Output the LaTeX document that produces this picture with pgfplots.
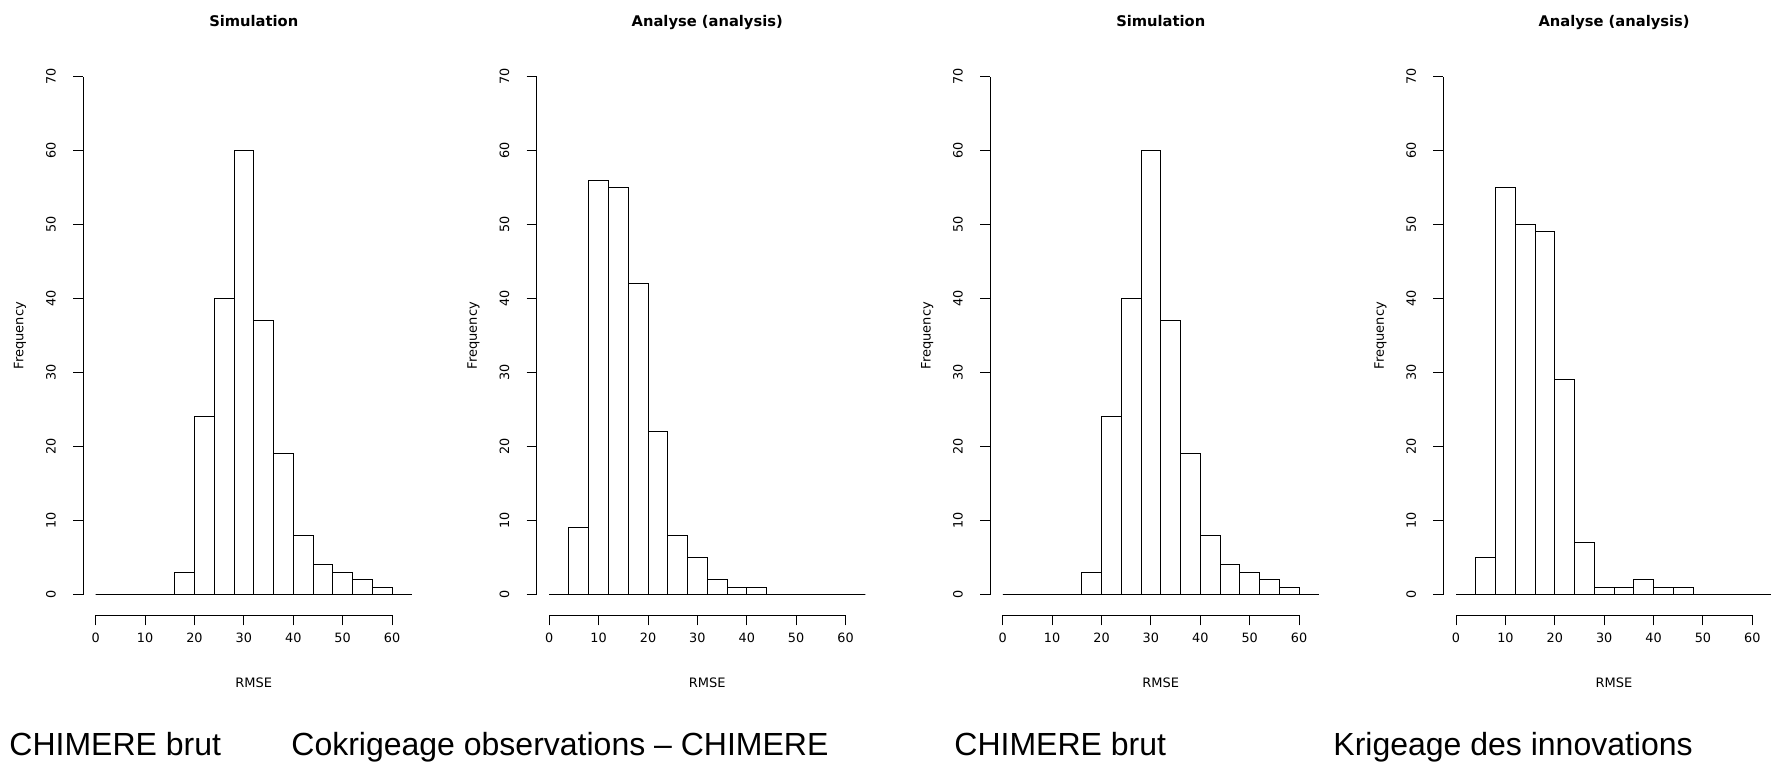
\documentclass[border=0pt]{standalone}
\usepackage{pgfplots}
\usepackage{pgfplotstable}
\usepackage{fontspec}
\pgfplotsset{compat=1.18}
\setmainfont{DejaVu Sans}
\newfontfamily\capfont{Liberation Sans}

\pgfplotstableread{
x y
0 0
4 0
8 0
12 0
16 3
20 24
24 40
28 60
32 37
36 19
40 8
44 4
48 3
52 2
56 1
60 0
64 0
}\simtab

\pgfplotstableread{
x y
0 0
4 9
8 56
12 55
16 42
20 22
24 8
28 5
32 2
36 1
40 1
44 0
48 0
52 0
56 0
60 0
64 0
}\anatab

\pgfplotstableread{
x y
0 0
4 5
8 55
12 50
16 49
20 29
24 7
28 1
32 1
36 2
40 1
44 1
48 0
52 0
56 0
60 0
64 0
}\anbtab

\pgfplotsset{
  rhist/.style={
    scale only axis,
    width=170.65pt, height=279.7pt,
    anchor=south west,
    xmin=-2.56, xmax=66.56, ymin=-2.8, ymax=72.8,
    axis x line*=bottom, axis y line*=left,
    x axis line style={-, shorten <=6.32pt, shorten >=16.2pt},
    y axis line style={-, shorten <=10.36pt, shorten >=10.36pt},
    axis line style={line width=0.5pt},
    xtick={0,10,...,60}, ytick={0,10,...,70},
    tick align=outside, major tick length=5pt,
    tick style={line width=0.5pt, black},
    minor tick num=0,
    /pgf/number format/assume math mode=true,
    tick label style={font=\fontsize{6.4pt}{7.5pt}\selectfont},
    xticklabel style={anchor=base, yshift=-8.5pt},
    yticklabel style={xshift=-11.1pt, rotate=90, anchor=center},
    xlabel={RMSE}, ylabel={Frequency},
    label style={font=\fontsize{6.5pt}{7.5pt}\selectfont},
    xlabel style={at={([yshift=-36pt]axis description cs:0.5,0)}, anchor=base},
    ylabel style={at={([xshift=-31.5pt]axis description cs:0,0.5)}, anchor=center},
    every axis title shift=0pt,
    title style={at={([yshift=14.6pt]axis description cs:0.5,1)}, anchor=base, font=\bfseries\fontsize{7.35pt}{8.5pt}\selectfont},
    clip=false,
  },
  rbar/.style={ybar interval, fill=white, draw=black, line width=0.5pt},
}

\begin{document}
\begin{tikzpicture}
\useasboundingbox (0,0) rectangle (885.5pt,380.5pt);
\begin{axis}[rhist, at={(41.55pt,72.85pt)}, title={Simulation}]
\addplot[rbar] table[x=x,y=y] {\simtab};
\end{axis}
\begin{axis}[rhist, at={(268.3pt,72.85pt)}, title={Analyse (analysis)}]
\addplot[rbar] table[x=x,y=y] {\anatab};
\end{axis}
\begin{axis}[rhist, at={(495.05pt,72.85pt)}, title={Simulation}]
\addplot[rbar] table[x=x,y=y] {\simtab};
\end{axis}
\begin{axis}[rhist, at={(721.7pt,72.85pt)}, title={Analyse (analysis)}]
\addplot[rbar] table[x=x,y=y] {\anbtab};
\end{axis}
\node[anchor=base west, inner sep=0pt, font=\capfont\fontsize{16pt}{19pt}\selectfont] at (4.5pt,3pt) {CHIMERE brut};
\node[anchor=base west, inner sep=0pt, font=\capfont\fontsize{16pt}{19pt}\selectfont] at (145.5pt,3pt) {Cokrigeage observations – CHIMERE};
\node[anchor=base west, inner sep=0pt, font=\capfont\fontsize{16pt}{19pt}\selectfont] at (477pt,3pt) {CHIMERE brut};
\node[anchor=base west, inner sep=0pt, font=\capfont\fontsize{16pt}{19pt}\selectfont] at (666.5pt,3pt) {Krigeage des innovations};
\end{tikzpicture}
\end{document}
